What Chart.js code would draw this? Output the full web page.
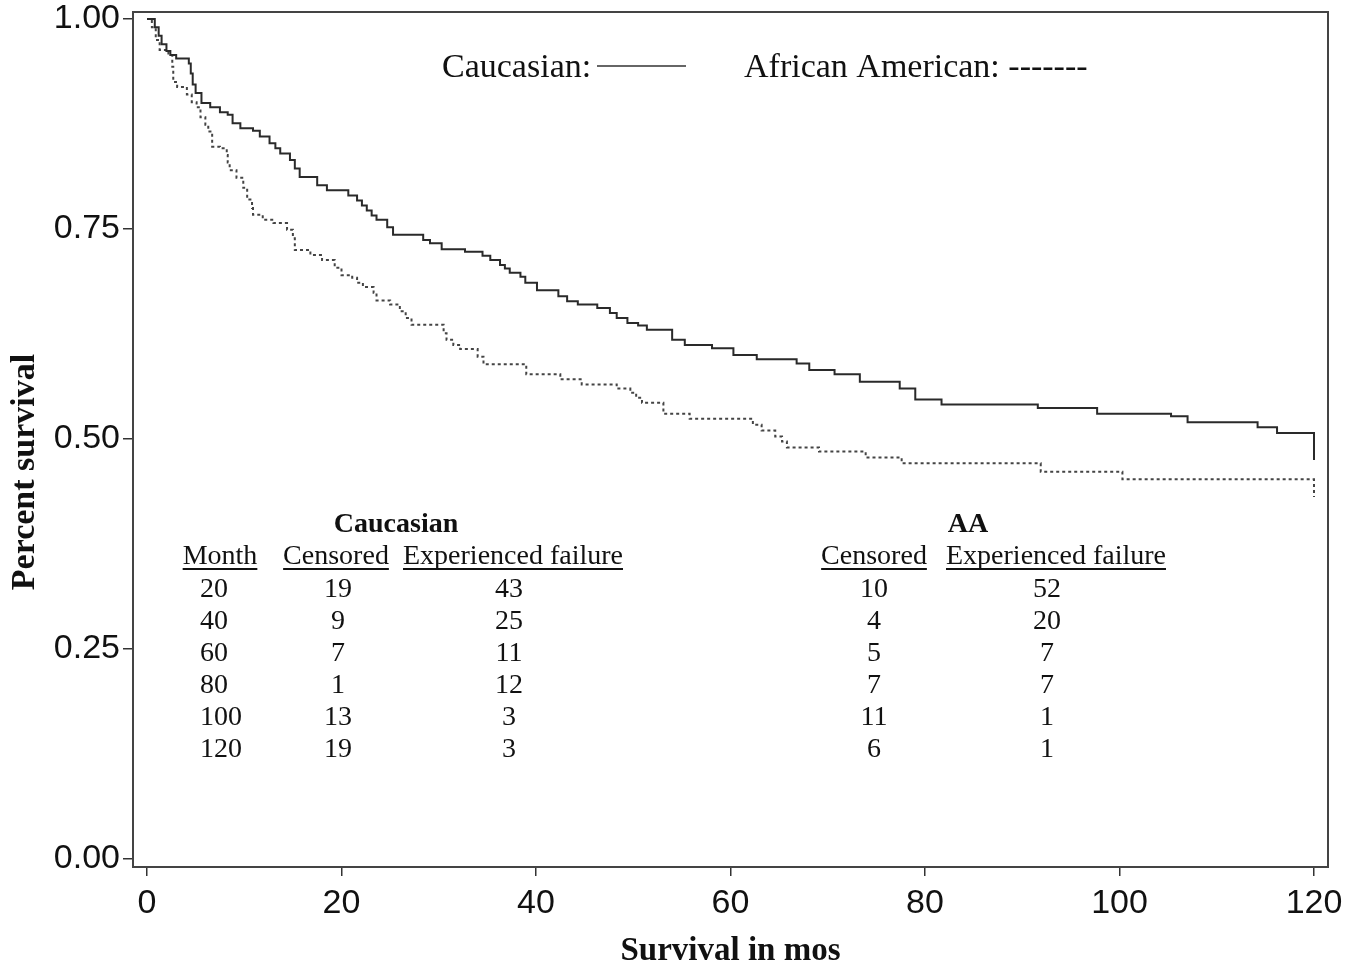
<!DOCTYPE html>
<html lang="en">
<head>
<meta charset="UTF-8">
<title>Survival by race</title>
<script src="https://cdn.jsdelivr.net/npm/chart.js"></script>
<style>
  body { margin: 0; background: #fff; }
  #wrap { width: 1353px; height: 971px; }
</style>
</head>
<body>
<div id="wrap"><canvas id="kmChart" width="1353" height="971"></canvas></div>
<script>
// Kaplan-Meier steps: month of each drop and survival after it
const caucMonths = [0, 0.8, 1.2, 1.5, 2.0, 2.4, 3.0, 4.3, 4.5, 4.7, 5.0, 5.6, 6.5, 7.5, 8.3, 8.8, 9.6, 10.9,
  11.6, 12.6, 13.2, 13.7, 14.7, 15.2, 15.7, 17.5, 18.5, 20.7, 21.6, 22.1, 22.6, 23.1, 23.6, 24.7, 25.3,
  28.4, 29.1, 30.3, 32.7, 34.5, 35.3, 36.3, 36.8, 37.3, 38.4, 38.9, 40.1, 42.3, 43.2, 44.3, 46.3, 47.6,
  48.3, 49.4, 50.5, 51.4, 54.0, 55.3, 58.1, 60.3, 62.7, 66.8, 68.1, 70.7, 73.3, 77.4, 79.0, 81.7, 91.6,
  97.7, 105.3, 107.0, 114.2, 116.2, 120];
const caucSurvival = [1.0, 0.99, 0.98, 0.97, 0.962, 0.957, 0.953, 0.947, 0.935, 0.922, 0.912, 0.90, 0.895,
  0.889, 0.886, 0.876, 0.870, 0.867, 0.860, 0.852, 0.846, 0.840, 0.832, 0.822, 0.812, 0.802, 0.796, 0.790,
  0.784, 0.778, 0.772, 0.766, 0.761, 0.752, 0.743, 0.737, 0.733, 0.726, 0.723, 0.718, 0.713, 0.707, 0.703,
  0.698, 0.693, 0.686, 0.677, 0.670, 0.664, 0.660, 0.656, 0.650, 0.644, 0.638, 0.635, 0.630, 0.618, 0.612,
  0.608, 0.600, 0.595, 0.590, 0.582, 0.577, 0.568, 0.560, 0.547, 0.541, 0.537, 0.530, 0.527, 0.520, 0.514,
  0.507, 0.475];

const aaMonths = [0, 0.5, 0.9, 1.3, 2.2, 2.6, 2.7, 3.1, 4.1, 4.6, 5.1, 5.5, 6.0, 6.3, 6.7, 7.5, 8.2, 8.3,
  8.5, 9.2, 9.9, 10.3, 10.8, 10.9, 11.9, 13.0, 14.4, 15.0, 15.2, 16.8, 18.0, 19.3, 20.0, 21.1, 21.6, 22.2,
  23.3, 23.6, 25.0, 26.0, 26.6, 27.2, 30.5, 30.8, 31.5, 32.2, 34.0, 34.6, 39.0, 42.5, 44.7, 48.3, 49.7,
  50.3, 50.9, 53.1, 55.8, 62.3, 63.2, 64.6, 65.3, 65.8, 69.1, 73.9, 77.6, 91.9, 100.3, 120];
const aaSurvival = [1.0, 0.99, 0.975, 0.963, 0.957, 0.943, 0.925, 0.919, 0.910, 0.901, 0.895, 0.883, 0.874,
  0.866, 0.848, 0.846, 0.838, 0.829, 0.820, 0.811, 0.799, 0.785, 0.775, 0.767, 0.761, 0.757, 0.749, 0.739,
  0.725, 0.719, 0.713, 0.704, 0.695, 0.692, 0.686, 0.681, 0.674, 0.665, 0.660, 0.652, 0.644, 0.636, 0.626,
  0.618, 0.612, 0.607, 0.598, 0.589, 0.577, 0.571, 0.565, 0.560, 0.555, 0.549, 0.543, 0.530, 0.524, 0.517,
  0.510, 0.503, 0.497, 0.490, 0.485, 0.478, 0.471, 0.461, 0.452, 0.431];

const xTicks = [0, 20, 40, 60, 80, 100, 120];
const yTicks = [0, 0.25, 0.5, 0.75, 1.0];

// numbers at risk table
const tableMonths = [20, 40, 60, 80, 100, 120];
const caucCensored = [19, 9, 7, 1, 13, 19];
const caucFailure = [43, 25, 11, 12, 3, 3];
const aaCensored = [10, 4, 5, 7, 11, 6];
const aaFailure = [52, 20, 7, 7, 1, 1];

const serif = '"Liberation Serif", "Times New Roman", serif';
const sans = '"Liberation Sans", Arial, sans-serif';

function underlined(ctx, text, cx, y) {
  const w = ctx.measureText(text).width;
  ctx.fillText(text, cx, y);
  ctx.fillRect(cx - w / 2, y + 4, w, 2);
}

// frame, y title, legend text and the table are drawn on top of the chart
const overlay = {
  id: 'overlay',
  afterDraw(chart) {
    const ctx = chart.ctx;
    const a = chart.chartArea;
    ctx.save();
    ctx.strokeStyle = '#444';
    ctx.lineWidth = 2;
    ctx.strokeRect(a.left, a.top, a.right - a.left, a.bottom - a.top);

    ctx.fillStyle = '#111';

    // y axis title, sits a bit below the middle in the original
    ctx.save();
    ctx.translate(25, 472);
    ctx.rotate(-Math.PI / 2);
    ctx.textAlign = 'center';
    ctx.textBaseline = 'middle';
    ctx.font = 'bold 34px ' + serif;
    ctx.fillText('Percent survival', 0, 0);
    ctx.restore();

    // legend
    ctx.textBaseline = 'alphabetic';
    ctx.textAlign = 'left';
    ctx.font = '34px ' + serif;
    ctx.fillText('Caucasian:', 442, 77);
    ctx.fillText('African American: -------', 744, 77);
    ctx.strokeStyle = '#333';
    ctx.lineWidth = 1.6;
    ctx.beginPath();
    ctx.moveTo(597, 66);
    ctx.lineTo(686, 66);
    ctx.stroke();

    // table
    ctx.textAlign = 'center';
    ctx.font = 'bold 28px ' + serif;
    ctx.fillText('Caucasian', 396, 532);
    ctx.fillText('AA', 968, 532);
    ctx.font = '28px ' + serif;
    underlined(ctx, 'Month', 220, 564);
    underlined(ctx, 'Censored', 336, 564);
    underlined(ctx, 'Experienced failure', 513, 564);
    underlined(ctx, 'Censored', 874, 564);
    underlined(ctx, 'Experienced failure', 1056, 564);
    tableMonths.forEach((m, i) => {
      const y = 597 + i * 32;
      ctx.textAlign = 'left';
      ctx.fillText(String(m), 200, y);
      ctx.textAlign = 'center';
      ctx.fillText(String(caucCensored[i]), 338, y);
      ctx.fillText(String(caucFailure[i]), 509, y);
      ctx.fillText(String(aaCensored[i]), 874, y);
      ctx.fillText(String(aaFailure[i]), 1047, y);
    });
    ctx.restore();
  }
};

new Chart(document.getElementById('kmChart'), {
  type: 'line',
  data: {
    datasets: [
      {
        label: 'Caucasian',
        data: caucMonths.map((m, i) => ({ x: m, y: caucSurvival[i] })),
        borderColor: '#2a2a2a',
        borderWidth: 2,
        stepped: 'before',
        pointRadius: 0,
        fill: false
      },
      {
        label: 'African American',
        data: aaMonths.map((m, i) => ({ x: m, y: aaSurvival[i] })),
        borderColor: '#444',
        borderWidth: 2,
        borderDash: [3, 3],
        stepped: 'before',
        pointRadius: 0,
        fill: false
      }
    ]
  },
  options: {
    responsive: false,
    animation: false,
    layout: { padding: { top: 12, right: 25, left: 0, bottom: 0 } },
    plugins: { legend: { display: false }, tooltip: { enabled: false } },
    scales: {
      x: {
        type: 'linear',
        min: -1.44,
        max: 121.44,
        afterBuildTicks: s => { s.ticks = xTicks.map(v => ({ value: v })); },
        afterFit: s => { s.height = 104; s.paddingLeft = 0; s.paddingRight = 0; },
        border: { display: false },
        grid: { drawOnChartArea: false, tickLength: 9, color: '#333', lineWidth: 1.5 },
        ticks: { font: { family: sans, size: 34 }, color: '#111', padding: 7, maxRotation: 0, autoSkip: false },
        title: {
          display: true,
          text: 'Survival in mos',
          font: { family: serif, size: 33, weight: 'bold' },
          color: '#111',
          padding: { top: 0, bottom: 0 }
        }
      },
      y: {
        min: -0.0095,
        max: 1.0083,
        afterBuildTicks: s => { s.ticks = yTicks.map(v => ({ value: v })); },
        afterFit: s => { s.width = 133; s.paddingTop = 0; s.paddingBottom = 0; },
        border: { display: false },
        grid: { drawOnChartArea: false, tickLength: 10, color: '#333', lineWidth: 1.5 },
        ticks: {
          font: { family: sans, size: 34 },
          color: '#111',
          padding: 3,
          callback: v => v.toFixed(2)
        },
        title: { display: false }
      }
    }
  },
  plugins: [overlay]
});
</script>
</body>
</html>
